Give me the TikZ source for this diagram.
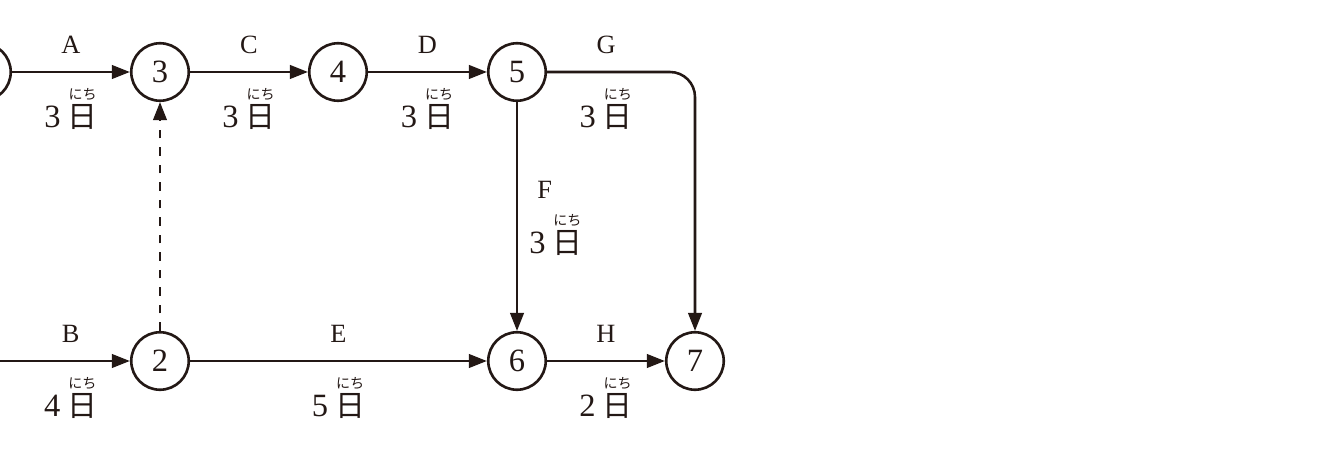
\documentclass[tikz,border=0pt]{standalone}
\usepackage{fontspec}
\setmainfont{Liberation Serif}
\newfontfamily\cjk{Noto Sans CJK JP}
\usetikzlibrary{arrows.meta, positioning}
\definecolor{ink}{RGB}{35,24,21}
\tikzstyle{event} = [circle, draw=ink, line width=1.5pt, minimum size=1.15cm, inner sep=0pt, text=ink, font=\fontsize{18.5}{18.5}\selectfont]
\tikzstyle{task} = [inner sep=0pt, text=ink, font=\fontsize{15}{15}\selectfont]
\tikzstyle{days} = [inner sep=0pt, text=ink, font=\fontsize{18.5}{18.5}\selectfont]
\tikzstyle{arrow} = [draw=ink, line width=1.45pt, -{Triangle[length=3.6mm,width=2.7mm]}]
\tikzstyle{dummy} = [arrow, line width=1.35pt, dash pattern=on 0.17cm off 0.18cm]
\newcommand{\nichi}[1]{#1\hspace{4pt}\vbox{\offinterlineskip\halign{\hfil##\hfil\cr{\fontsize{8}{8}\selectfont\cjk にち}\cr\noalign{\kern2.5pt}{\fontsize{17}{17}\selectfont\cjk 日}\cr}}}

\begin{document}
\begin{tikzpicture}[x=0.02cm, y=0.02cm]
\useasboundingbox (0,0) rectangle (1336,450);
\clip (0,0) rectangle (1336,450);

\node (n1) [event] at (-18,378) {};
\node (n3) [event] at (160,378) {3};
\node (n4) [event] at (338,378) {4};
\node (n5) [event] at (517,378) {5};
\node (n2) [event] at (160,89) {2};
\node (n6) [event] at (517,89) {6};
\node (n7) [event] at (695,89) {7};

\draw [arrow] (n1) -- node[task, above=0.34cm] {A} node[days, below=0.3cm] {\nichi{3}} (n3);
\draw [arrow] (n3) -- node[task, above=0.34cm] {C} node[days, below=0.3cm] {\nichi{3}} (n4);
\draw [arrow] (n4) -- node[task, above=0.34cm] {D} node[days, below=0.3cm] {\nichi{3}} (n5);
\draw [arrow, rounded corners=0.5cm] (n5) -| node[task, pos=0.2, above=0.34cm] {G} node[days, pos=0.2, below=0.3cm] {\nichi{3}} (n7);
\draw [arrow] (n5) -- node[task, pos=0.385, right=0.38cm] {F} node[days, pos=0.58, right=0.22cm] {\nichi{3}} (n6);

\draw [arrow] (n1) |- node[task, pos=0.8, above=0.34cm] {B} node[days, pos=0.8, below=0.3cm] {\nichi{4}} (n2);
\draw [arrow] (n2) -- node[task, above=0.34cm] {E} node[days, below=0.3cm] {\nichi{5}} (n6);
\draw [arrow] (n6) -- node[task, above=0.34cm] {H} node[days, below=0.3cm] {\nichi{2}} (n7);
\draw [dummy] (n2) -- (n3);

\end{tikzpicture}
\end{document}
